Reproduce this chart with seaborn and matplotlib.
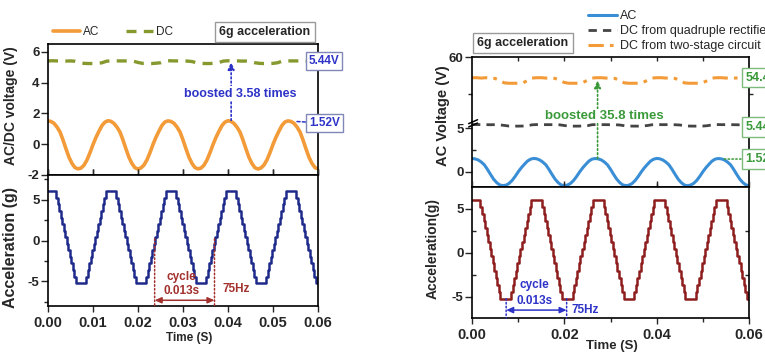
import numpy as np
import pandas as pd
import matplotlib
matplotlib.use("Agg")
import matplotlib.pyplot as plt
import seaborn as sns
from matplotlib.lines import Line2D
from matplotlib.patches import ConnectionPatch
from matplotlib.ticker import FixedLocator, FormatStrFormatter

# ---------------- data ----------------
# acceleration (g), sampled every 1/3000 s
acceleration_g = [
    6.0, 6.0, 6.0, 6.0, 6.0, 6.0,
    5.2, 4.4, 3.6, 2.8, 2.0, 1.2, 0.4, -0.4, -1.2, -2.0, -2.8, -3.6, -4.4,
    -5.2, -5.2, -5.2, -5.2, -5.2, -5.2, -5.2,
    -4.4, -3.6, -2.8, -2.0, -1.2, -0.4, 0.4, 1.2, 2.0, 2.8, 3.6, 4.4, 5.2,
    6.0, 6.0, 6.0, 6.0, 6.0, 6.0, 6.0,
    5.2, 4.4, 3.6, 2.8, 2.0, 1.2, 0.4, -0.4, -1.2, -2.0, -2.8, -3.6, -4.4,
    -5.2, -5.2, -5.2, -5.2, -5.2, -5.2, -5.2,
    -4.4, -3.6, -2.8, -2.0, -1.2, -0.4, 0.4, 1.2, 2.0, 2.8, 3.6, 4.4, 5.2,
    6.0, 6.0, 6.0, 6.0, 6.0, 6.0, 6.0,
    5.2, 4.4, 3.6, 2.8, 2.0, 1.2, 0.4, -0.4, -1.2, -2.0, -2.8, -3.6, -4.4,
    -5.2, -5.2, -5.2, -5.2, -5.2, -5.2, -5.2,
    -4.4, -3.6, -2.8, -2.0, -1.2, -0.4, 0.4, 1.2, 2.0, 2.8, 3.6, 4.4, 5.2,
    6.0, 6.0, 6.0, 6.0, 6.0, 6.0, 6.0,
    5.2, 4.4, 3.6, 2.8, 2.0, 1.2, 0.4, -0.4, -1.2, -2.0, -2.8, -3.6, -4.4,
    -5.2, -5.2, -5.2, -5.2, -5.2, -5.2, -5.2,
    -4.4, -3.6, -2.8, -2.0, -1.2, -0.4, 0.4, 1.2, 2.0, 2.8, 3.6, 4.4, 5.2,
    6.0, 6.0, 6.0, 6.0, 6.0, 6.0, 6.0,
    5.2, 4.4, 3.6, 2.8, 2.0, 1.2, 0.4, -0.4, -1.2, -2.0, -2.8, -3.6, -4.4,
    -5.2, -5.2,
]

# AC voltage (V), sampled every 1/1500 s
ac_voltage = [
    1.52, 1.48, 1.36, 1.12, 0.80, 0.28, -0.30, -0.85, -1.25, -1.52,
    -1.60, -1.55, -1.36, -1.02, -0.55, -0.02, 0.45, 0.85, 1.22, 1.44,
    1.53, 1.49, 1.35, 1.11, 0.79, 0.27, -0.31, -0.86, -1.26, -1.53,
    -1.61, -1.54, -1.35, -1.01, -0.54, -0.01, 0.46, 0.86, 1.23, 1.45,
    1.52, 1.48, 1.36, 1.12, 0.80, 0.28, -0.30, -0.85, -1.25, -1.52,
    -1.60, -1.55, -1.36, -1.02, -0.55, -0.02, 0.45, 0.85, 1.22, 1.44,
    1.53, 1.49, 1.35, 1.11, 0.79, 0.27, -0.31, -0.86, -1.26, -1.53,
    -1.61, -1.54, -1.35, -1.01, -0.54, -0.01, 0.46, 0.86, 1.23, 1.45,
    1.52, 1.48, 1.36, 1.12, 0.80, 0.28, -0.30, -0.85, -1.25, -1.52,
    -1.60,
]

# DC from quadruple rectifier (V), sampled every 1 ms
dc_quadruple = [
    5.42, 5.43, 5.42, 5.42, 5.41, 5.42, 5.40, 5.33, 5.26, 5.25, 5.25, 5.26, 5.30, 5.40,
    5.43, 5.42, 5.42, 5.42, 5.41, 5.40, 5.32, 5.26, 5.25, 5.25, 5.27, 5.30, 5.41,
    5.43, 5.42, 5.42, 5.41, 5.41, 5.38, 5.30, 5.26, 5.25, 5.25, 5.27, 5.32, 5.41,
    5.43, 5.42, 5.42, 5.41, 5.41, 5.38, 5.30, 5.26, 5.25, 5.25, 5.26, 5.30, 5.40,
    5.43, 5.42, 5.42, 5.42, 5.41, 5.40, 5.42, 5.43,
]

# DC from two-stage circuit (V), sampled every 1 ms
dc_two_stage = [
    54.4, 54.4, 54.3, 54.4, 54.3, 54.2, 53.6, 53.0, 52.9, 52.9, 52.9, 53.0, 53.6, 54.3,
    54.4, 54.4, 54.3, 54.4, 54.2, 53.7, 53.1, 52.9, 52.9, 52.9, 53.1, 53.7, 54.3,
    54.4, 54.4, 54.3, 54.3, 54.2, 53.6, 53.0, 52.9, 52.9, 52.9, 53.1, 53.7, 54.3,
    54.4, 54.4, 54.3, 54.4, 54.2, 53.7, 53.0, 52.9, 52.9, 52.9, 53.1, 53.6, 54.3,
    54.4, 54.4, 54.3, 54.4, 54.3, 54.4, 54.4, 54.4,
]

t_acc = np.arange(len(acceleration_g)) / 3000.0
t_ac = np.arange(len(ac_voltage)) / 1500.0
t_dc = np.arange(len(dc_quadruple)) / 1000.0

# ---------------- style ----------------
sns.set_style("ticks")
plt.rcParams['font.family'] = ['Liberation Sans', 'DejaVu Sans']
plt.rcParams['axes.linewidth'] = 1.2
plt.rcParams['axes.edgecolor'] = 'black'
plt.rcParams['axes.unicode_minus'] = False

ORANGE = '#F29B38'
OLIVE = '#86992E'
NAVY = '#1E2A8A'
BLUE_T = '#2E33C8'
BOX_BLUE = '#8088B8'
DARKRED = '#8E1D1D'
RED_T = '#A2302C'
AC_BLUE = '#3A8ED6'
GRAY = '#444444'
GREEN_T = '#3A9A3A'
BOX_GREEN = '#7DBB7D'

W, H = 765.0, 354.0
fig = plt.figure(figsize=(W / 100, H / 100), dpi=100)


def px_box(x0, y0, x1, y1):
    return [x0 / W, 1 - y1 / H, (x1 - x0) / W, (y1 - y0) / H]


axL1 = fig.add_axes(px_box(48, 44, 318, 175))
axL2 = fig.add_axes(px_box(48, 175, 318, 306))
axR1 = fig.add_axes(px_box(472, 57, 749, 121.7))
axR2 = fig.add_axes(px_box(472, 121.7, 749, 187))
axR3 = fig.add_axes(px_box(472, 187, 749, 318))

# ---------------- lines ----------------
sns.lineplot(x=t_ac, y=ac_voltage, ax=axL1, color=ORANGE, lw=2.6, errorbar=None)
sns.lineplot(x=t_dc, y=dc_quadruple, ax=axL1, color=OLIVE, lw=2.4,
             linestyle=(0, (3, 2.2)), errorbar=None)
sns.lineplot(x=t_acc, y=acceleration_g, ax=axL2, color=NAVY, lw=1.8,
             drawstyle='steps-mid', errorbar=None)

sns.lineplot(x=t_dc, y=dc_two_stage, ax=axR1, color=ORANGE, lw=2.2,
             linestyle=(0, (5, 2, 1.2, 2)), errorbar=None)
sns.lineplot(x=t_ac, y=ac_voltage, ax=axR2, color=AC_BLUE, lw=2.2, errorbar=None)
sns.lineplot(x=t_dc, y=dc_quadruple, ax=axR2, color=GRAY, lw=2.0,
             linestyle=(0, (3, 2.2)), errorbar=None)
sns.lineplot(x=t_acc, y=acceleration_g, ax=axR3, color=DARKRED, lw=1.8,
             drawstyle='steps-mid', errorbar=None)

YT = dict(labelsize=9.5)
XT = dict(labelsize=10.5)


def bold_ticks(ax):
    for lab in ax.get_xticklabels() + ax.get_yticklabels():
        lab.set_fontweight('bold')


for ax in (axL1, axL2, axR1, axR2, axR3):
    ax.set_xlim(0, 0.06)
    ax.set_xlabel('')
    ax.set_ylabel('')
    for s in ax.spines.values():
        s.set_visible(True)
        s.set_color('black')
        s.set_linewidth(1.2)

# left top
axL1.set_ylim(-2, 6.52)
axL1.yaxis.set_major_locator(FixedLocator([-2, 0, 2, 4, 6]))
axL1.xaxis.set_major_locator(FixedLocator([0, 0.01, 0.02, 0.03, 0.04, 0.05, 0.06]))
axL1.tick_params(axis='y', direction='out', length=5, width=1, pad=1, **YT)
axL1.tick_params(axis='x', direction='in', length=4, width=1, labelbottom=False)

# left bottom
axL2.set_ylim(-8, 8)
axL2.yaxis.set_major_locator(FixedLocator([-5, 0, 5]))
axL2.yaxis.set_minor_locator(FixedLocator([-7.5, -2.5, 2.5, 7.5]))
axL2.xaxis.set_major_locator(FixedLocator([0, 0.01, 0.02, 0.03, 0.04, 0.05, 0.06]))
axL2.xaxis.set_major_formatter(FormatStrFormatter('%.2f'))
axL2.tick_params(axis='y', which='major', direction='out', length=5, width=1, pad=1, **YT)
axL2.tick_params(axis='y', which='minor', direction='out', length=3, width=1)
axL2.tick_params(axis='x', which='major', direction='out', length=4, width=1, top=True, pad=3, **XT)

# right upper segment
axR1.set_ylim(42.5, 60)
axR1.yaxis.set_major_locator(FixedLocator([60]))
axR1.yaxis.set_minor_locator(FixedLocator([50]))
axR1.xaxis.set_major_locator(FixedLocator([0.01, 0.02, 0.03, 0.04, 0.05]))
axR1.spines['bottom'].set_visible(False)
axR1.tick_params(axis='x', direction='in', length=3, width=1, top=True, bottom=False, labelbottom=False)
axR1.tick_params(axis='y', which='major', direction='out', length=5, width=1, pad=1, **YT)
axR1.tick_params(axis='y', which='minor', direction='out', length=3, width=1, right=True)

# right lower segment
axR2.set_ylim(-1.76, 5.76)
axR2.yaxis.set_major_locator(FixedLocator([0, 5]))
axR2.yaxis.set_minor_locator(FixedLocator([2.5]))
axR2.xaxis.set_major_locator(FixedLocator([0.02, 0.04]))
axR2.spines['top'].set_visible(False)
axR2.tick_params(axis='x', direction='in', length=3, width=1, labelbottom=False)
axR2.tick_params(axis='y', which='major', direction='out', length=5, width=1, pad=1, **YT)
axR2.tick_params(axis='y', which='minor', direction='in', length=3, width=1, right=True)

# right acceleration
axR3.set_ylim(-7.4, 7.5)
axR3.yaxis.set_major_locator(FixedLocator([-5, 0, 5]))
axR3.yaxis.set_minor_locator(FixedLocator([-2.5, 2.5]))
axR3.xaxis.set_major_locator(FixedLocator([0, 0.02, 0.04, 0.06]))
axR3.xaxis.set_minor_locator(FixedLocator([0.01, 0.03, 0.05]))
axR3.xaxis.set_major_formatter(FormatStrFormatter('%.2f'))
axR3.tick_params(axis='y', which='major', direction='out', length=5, width=1, pad=1, **YT)
axR3.tick_params(axis='y', which='minor', direction='in', length=3, width=1, right=True, left=True)
axR3.tick_params(axis='x', which='major', direction='out', length=4, width=1, top=True, pad=3, **XT)
axR3.tick_params(axis='x', which='minor', direction='out', length=3, width=1)

for ax in (axL1, axL2, axR1, axR2, axR3):
    bold_ticks(ax)

# axis labels
axL1.set_ylabel('AC/DC voltage (V)', fontsize=10, fontweight='bold')
axL1.yaxis.set_label_coords(-0.111, 0.53)
axL2.set_ylabel('Acceleration (g)', fontsize=11.5, fontweight='bold')
axL2.yaxis.set_label_coords(-0.111, 0.45)
axL2.set_xlabel('Time (S)', fontsize=8.5, fontweight='bold')
axL2.xaxis.set_label_coords(0.524, -0.2)
fig.text(443 / W, 1 - 116 / H, 'AC Voltage (V)', rotation=90, ha='center', va='center',
         fontsize=10.5, fontweight='bold')
axR3.set_ylabel('Acceleration(g)', fontsize=10, fontweight='bold')
axR3.yaxis.set_label_coords(-0.1155, 0.527)
axR3.set_xlabel('Time (S)', fontsize=9.5, fontweight='bold')
axR3.xaxis.set_label_coords(0.504, -0.17)

# broken-axis marks
for dy in (0.0, 0.05):
    axR2.plot([-0.012, 0.02], [0.97 - dy, 1.03 - dy], transform=axR2.transAxes,
              color='black', lw=1.1, clip_on=False)

# ---------------- legends & boxes ----------------
leg_l = axL1.legend(
    handles=[Line2D([], [], color=ORANGE, lw=2.6),
             Line2D([], [], color=OLIVE, lw=2.4, ls=(0, (3, 2.2)))],
    labels=['AC', 'DC'], ncol=2, frameon=False, fontsize=8.5,
    handlelength=2.3, handletextpad=0.2, columnspacing=2.3,
    borderpad=0, borderaxespad=0, loc='center left',
    bbox_to_anchor=(53 / W, 1 - 32.3 / H), bbox_transform=fig.transFigure)

leg_r = axR1.legend(
    handles=[Line2D([], [], color=AC_BLUE, lw=2.2),
             Line2D([], [], color=GRAY, lw=2.0, ls=(0, (3, 2.2))),
             Line2D([], [], color=ORANGE, lw=2.2, ls=(0, (5, 2, 1.2, 2)))],
    labels=['AC', 'DC from quadruple rectifier', 'DC from two-stage circuit'],
    frameon=False, fontsize=9, handlelength=2.3, handletextpad=0.25,
    labelspacing=0.25, borderpad=0, borderaxespad=0, loc='upper left',
    bbox_to_anchor=(588 / W, 1 - 10 / H), bbox_transform=fig.transFigure)

box_kw = dict(boxstyle='square,pad=0.35', fc='white', ec='#9A9A9A', lw=1)
fig.text(265 / W, 1 - 32 / H, '6g acceleration', ha='center', va='center',
         fontsize=9, fontweight='bold', bbox=box_kw)
fig.text(523 / W, 1 - 43 / H, '6g acceleration', ha='center', va='center',
         fontsize=9, fontweight='bold', bbox=box_kw)

# ---------------- left annotations ----------------
axL1.annotate('', xy=(0.0407, 5.35), xytext=(0.0407, 1.55),
              arrowprops=dict(arrowstyle='-|>,head_length=0.45,head_width=0.2',
                              linestyle=(0, (1, 1.5)), color=BLUE_T, lw=1.2,
                              shrinkA=0, shrinkB=0))
axL1.text(0.0428, 3.3, 'boosted 3.58 times', ha='center', va='center', color=BLUE_T,
          fontsize=9, fontweight='bold', zorder=6,
          bbox=dict(boxstyle='square,pad=0.1', fc='white', ec='none'))
lab_blue = dict(boxstyle='square,pad=0.25', fc='white', ec=BOX_BLUE, lw=1)
axL1.text(0.0613, 5.42, '5.44V', ha='center', va='center', color=BLUE_T, fontsize=8.5,
          fontweight='bold', bbox=lab_blue, clip_on=False, zorder=7)
axL1.annotate('1.52V', xy=(0.0552, 1.48), xytext=(0.0614, 1.38), ha='center', va='center',
              color=BLUE_T, fontsize=8.5, fontweight='bold', bbox=lab_blue,
              annotation_clip=False, zorder=7,
              arrowprops=dict(arrowstyle='-', linestyle=(0, (2, 1.5)), color=BLUE_T,
                              lw=1.1, shrinkA=0, shrinkB=0))

for tx in (0.0237, 0.0370):
    axL2.annotate('', xy=(tx, -8), xytext=(tx, 0.2),
                  arrowprops=dict(arrowstyle='-', linestyle=(0, (1, 1.5)), color=RED_T,
                                  lw=1.1, shrinkA=0, shrinkB=0))
axL2.annotate('', xy=(0.0237, -7.3), xytext=(0.0370, -7.3),
              arrowprops=dict(arrowstyle='<|-|>,head_length=0.4,head_width=0.18',
                              color=RED_T, lw=1.1, shrinkA=0, shrinkB=0))
axL2.text(0.0297, -4.4, 'cycle', ha='center', va='center', color=RED_T, fontsize=8.5,
          fontweight='bold')
axL2.text(0.0297, -6.2, '0.013s', ha='center', va='center', color=RED_T, fontsize=8.5,
          fontweight='bold')
axL2.text(0.0388, -5.9, '75Hz', ha='left', va='center', color=RED_T, fontsize=8.5,
          fontweight='bold')

# ---------------- right annotations ----------------
con = ConnectionPatch(xyA=(0.0272, 1.5), coordsA=axR2.transData,
                      xyB=(0.0272, 53.7), coordsB=axR1.transData,
                      arrowstyle='-|>,head_length=0.45,head_width=0.2',
                      linestyle=(0, (1, 1.5)), color=GREEN_T, lw=1.2,
                      shrinkA=0, shrinkB=0, zorder=1)
fig.add_artist(con)
fig.text(0.0286, 44.0, 'boosted 35.8 times', transform=axR1.transData, ha='center',
         va='center', color=GREEN_T, fontsize=9.5, fontweight='bold', zorder=6,
         bbox=dict(boxstyle='square,pad=0.1', fc='white', ec='none'))
lab_green = dict(boxstyle='square,pad=0.3', fc='white', ec=BOX_GREEN, lw=1)
axR1.text(0.0592, 54.4, '54.4V', ha='left', va='center', color=GREEN_T, fontsize=9,
          fontweight='bold', bbox=lab_green, clip_on=False, zorder=7)
axR2.text(0.0592, 5.15, '5.44V', ha='left', va='center', color=GREEN_T, fontsize=9,
          fontweight='bold', bbox=lab_green, clip_on=False, zorder=7)
axR2.annotate('1.52V', xy=(0.0544, 1.46), xytext=(0.0592, 1.46), ha='left', va='center',
              color=GREEN_T, fontsize=9, fontweight='bold', bbox=lab_green,
              annotation_clip=False, zorder=7,
              arrowprops=dict(arrowstyle='-', linestyle=(0, (1, 1.5)), color=GREEN_T,
                              lw=1.1, shrinkA=0, shrinkB=0))

for tx in (0.0074, 0.0205):
    axR3.annotate('', xy=(tx, -7.4), xytext=(tx, -5.2),
                  arrowprops=dict(arrowstyle='-', linestyle=(0, (1, 1.5)), color=BLUE_T,
                                  lw=1.1, shrinkA=0, shrinkB=0))
axR3.annotate('', xy=(0.0074, -6.5), xytext=(0.0205, -6.5),
              arrowprops=dict(arrowstyle='<|-|>,head_length=0.4,head_width=0.18',
                              color=BLUE_T, lw=1.1, shrinkA=0, shrinkB=0))
axR3.text(0.0136, -3.7, 'cycle', ha='center', va='center', color=BLUE_T, fontsize=8.5,
          fontweight='bold')
axR3.text(0.0136, -5.5, '0.013s', ha='center', va='center', color=BLUE_T, fontsize=8.5,
          fontweight='bold')
axR3.text(0.0216, -6.5, '75Hz', ha='left', va='center', color=BLUE_T, fontsize=8.5,
          fontweight='bold')

fig.savefig('out.png', dpi=100)
